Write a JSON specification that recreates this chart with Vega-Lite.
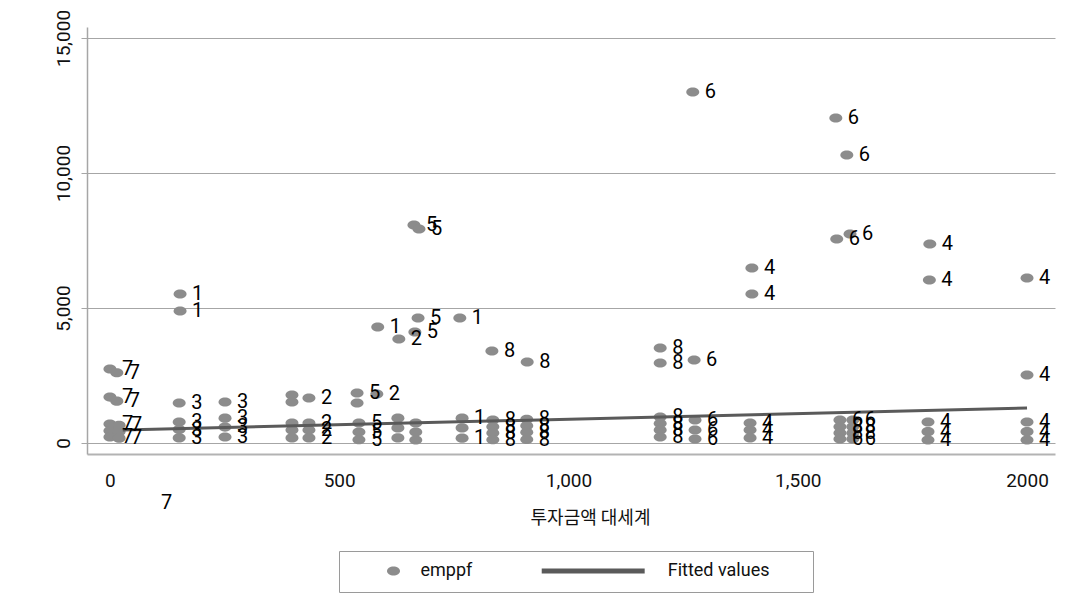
{
  "$schema": "https://vega.github.io/schema/vega-lite/v6.json",
  "width": 968,
  "height": 427,
  "autosize": {"type": "none"},
  "padding": {"left": 87, "top": 27, "right": 36, "bottom": 155},
  "background": "white",
  "config": {"view": {"stroke": null}, "font": "Roboto"},
  "datasets": {
    "obs": [
      {"x": 1271, "y": 13000, "lab": "6"},
      {"x": 1583, "y": 12037, "lab": "6"},
      {"x": 1607, "y": 10667, "lab": "6"},
      {"x": 663, "y": 8074, "lab": "5"},
      {"x": 674, "y": 7926, "lab": "5"},
      {"x": 1585, "y": 7555, "lab": "6"},
      {"x": 1614, "y": 7740, "lab": "6"},
      {"x": 1788, "y": 7370, "lab": "4"},
      {"x": 1400, "y": 6481, "lab": "4"},
      {"x": 1400, "y": 5518, "lab": "4"},
      {"x": 1787, "y": 6037, "lab": "4"},
      {"x": 2000, "y": 6111, "lab": "4"},
      {"x": 2000, "y": 2518, "lab": "4"},
      {"x": 153, "y": 5519, "lab": "1"},
      {"x": 153, "y": 4889, "lab": "1"},
      {"x": 584, "y": 4296, "lab": "1"},
      {"x": 672, "y": 4630, "lab": "5"},
      {"x": 665, "y": 4111, "lab": "5"},
      {"x": 630, "y": 3852, "lab": "2"},
      {"x": 763, "y": 4630, "lab": "1"},
      {"x": 833, "y": 3407, "lab": "8"},
      {"x": 910, "y": 3000, "lab": "8"},
      {"x": 0, "y": 2740, "lab": "7"},
      {"x": 15, "y": 2600, "lab": "7"},
      {"x": 0, "y": 1700, "lab": "7"},
      {"x": 15, "y": 1550, "lab": "7"},
      {"x": 151, "y": 1481, "lab": "3"},
      {"x": 251, "y": 1519, "lab": "3"},
      {"x": 397, "y": 1778, "lab": ""},
      {"x": 397, "y": 1519, "lab": ""},
      {"x": 434, "y": 1667, "lab": "2"},
      {"x": 539, "y": 1852, "lab": "5"},
      {"x": 539, "y": 1481, "lab": ""},
      {"x": 582, "y": 1815, "lab": "2"},
      {"x": 1200, "y": 3518, "lab": "8"},
      {"x": 1200, "y": 2963, "lab": "8"},
      {"x": 1274, "y": 3074, "lab": "6"},
      {"x": 0, "y": 700, "lab": "7"},
      {"x": 0, "y": 450, "lab": ""},
      {"x": 0, "y": 220, "lab": "7"},
      {"x": 20, "y": 660, "lab": "7"},
      {"x": 20, "y": 420, "lab": ""},
      {"x": 20, "y": 180, "lab": "7"},
      {"x": 151, "y": 780, "lab": "3"},
      {"x": 151, "y": 500, "lab": "3"},
      {"x": 151, "y": 190, "lab": "3"},
      {"x": 251, "y": 920, "lab": "3"},
      {"x": 251, "y": 590, "lab": "3"},
      {"x": 251, "y": 220, "lab": "3"},
      {"x": 397, "y": 740, "lab": ""},
      {"x": 397, "y": 480, "lab": ""},
      {"x": 397, "y": 190, "lab": ""},
      {"x": 434, "y": 740, "lab": "2"},
      {"x": 434, "y": 480, "lab": "2"},
      {"x": 434, "y": 190, "lab": "2"},
      {"x": 543, "y": 740, "lab": "5"},
      {"x": 543, "y": 410, "lab": "5"},
      {"x": 543, "y": 120, "lab": "5"},
      {"x": 628, "y": 920, "lab": ""},
      {"x": 628, "y": 560, "lab": ""},
      {"x": 628, "y": 190, "lab": ""},
      {"x": 667, "y": 740, "lab": ""},
      {"x": 667, "y": 410, "lab": ""},
      {"x": 667, "y": 110, "lab": ""},
      {"x": 768, "y": 920, "lab": "1"},
      {"x": 768, "y": 560, "lab": ""},
      {"x": 768, "y": 180, "lab": "1"},
      {"x": 835, "y": 850, "lab": "8"},
      {"x": 835, "y": 600, "lab": "8"},
      {"x": 835, "y": 370, "lab": "8"},
      {"x": 835, "y": 120, "lab": "8"},
      {"x": 909, "y": 880, "lab": "8"},
      {"x": 909, "y": 640, "lab": "8"},
      {"x": 909, "y": 400, "lab": "8"},
      {"x": 909, "y": 130, "lab": "8"},
      {"x": 1200, "y": 960, "lab": "8"},
      {"x": 1200, "y": 720, "lab": "8"},
      {"x": 1200, "y": 480, "lab": "8"},
      {"x": 1200, "y": 220, "lab": "8"},
      {"x": 1276, "y": 850, "lab": "6"},
      {"x": 1276, "y": 480, "lab": "6"},
      {"x": 1276, "y": 150, "lab": "6"},
      {"x": 1396, "y": 740, "lab": "4"},
      {"x": 1396, "y": 480, "lab": "4"},
      {"x": 1396, "y": 190, "lab": "4"},
      {"x": 1592, "y": 850, "lab": "6"},
      {"x": 1592, "y": 600, "lab": "8"},
      {"x": 1592, "y": 370, "lab": "8"},
      {"x": 1592, "y": 150, "lab": "6"},
      {"x": 1620, "y": 850, "lab": "6"},
      {"x": 1620, "y": 600, "lab": "8"},
      {"x": 1620, "y": 370, "lab": "8"},
      {"x": 1620, "y": 150, "lab": "6"},
      {"x": 1784, "y": 780, "lab": "4"},
      {"x": 1784, "y": 420, "lab": "4"},
      {"x": 1784, "y": 110, "lab": "4"},
      {"x": 2000, "y": 780, "lab": "4"},
      {"x": 2000, "y": 420, "lab": "4"},
      {"x": 2000, "y": 110, "lab": "4"},
      {"x": 85, "y": -2222, "lab": "7", "kind": "label"}
    ],
    "fit": [
      {"x": 28, "y": 481},
      {"x": 2000, "y": 1296}
    ]
  },
  "resolve": {"scale": {"color": "independent"}, "legend": {"color": "independent"}},
  "encoding": {
    "x": {
      "field": "x",
      "type": "quantitative",
      "scale": {"domain": [-50, 2061], "nice": false, "zero": false},
      "axis": {
        "values": [0, 500, 1000, 1500, 2000],
        "labelExpr": "datum.value == 2000 ? '2000' : format(datum.value, ',')",
        "ticks": false,
        "tickSize": 0,
        "grid": false,
        "domainColor": "#b3b3b3",
        "domainWidth": 2,
        "labelPadding": 17,
        "labelFontSize": 19,
        "labelFont": "Roboto",
        "labelColor": "#111111",
        "labelFlush": false,
        "labelOverlap": false,
        "title": "투자금액 대세계",
        "titleFont": "Noto Sans CJK KR",
        "titleFontSize": 18,
        "titleFontWeight": "normal",
        "titleColor": "#111111",
        "titlePadding": 19,
        "titleX": 503
      }
    },
    "y": {
      "field": "y",
      "type": "quantitative",
      "scale": {"domain": [-407, 15407], "nice": false, "zero": false},
      "axis": {
        "values": [0, 5000, 10000, 15000],
        "labelExpr": "format(datum.value, ',d')",
        "grid": true,
        "gridColor": "#a6a6a6",
        "gridWidth": 1,
        "tickSize": 6,
        "tickColor": "#a6a6a6",
        "domainColor": "#a6a6a6",
        "domainWidth": 1.5,
        "labelAngle": 270,
        "labelAlign": "center",
        "labelBaseline": "alphabetic",
        "labelPadding": 12,
        "labelFontSize": 19,
        "labelFont": "Roboto",
        "labelColor": "#111111",
        "labelFlush": false,
        "labelOverlap": false,
        "title": null
      }
    }
  },
  "layer": [
    {
      "data": {"name": "obs"},
      "transform": [{"filter": "datum.kind !== 'label'"}],
      "mark": {
        "type": "point",
        "filled": true,
        "opacity": 1,
        "size": 169,
        "shape": "M -1 0 A 1 0.7 0 1 0 1 0 A 1 0.7 0 1 0 -1 0 Z"
      },
      "encoding": {
        "color": {
          "datum": "emppf",
          "type": "nominal",
          "scale": {"domain": ["emppf"], "range": ["#8c8c8c"]},
          "legend": {
            "orient": "none",
            "legendX": 286.5,
            "legendY": 524,
            "direction": "horizontal",
            "padding": 11,
            "title": null,
            "labelFontSize": 18,
            "labelFont": "Roboto",
            "labelColor": "#111111",
            "labelOffset": 18,
            "symbolType": "M -1 0 A 1 0.7 0 1 0 1 0 A 1 0.7 0 1 0 -1 0 Z",
            "symbolSize": 169,
            "symbolStrokeWidth": 0,
            "symbolOpacity": 1
          }
        }
      }
    },
    {
      "data": {"name": "fit"},
      "mark": {"type": "line", "strokeWidth": 3},
      "encoding": {
        "color": {
          "datum": "Fitted values",
          "type": "nominal",
          "scale": {"domain": ["Fitted values"], "range": ["#5a5a5a"]},
          "legend": {
            "orient": "none",
            "legendX": 252,
            "legendY": 524,
            "direction": "horizontal",
            "strokeColor": "#9a9a9a",
            "padding": 11,
            "title": " ",
            "titleOrient": "left",
            "titleFontSize": 1,
            "titlePadding": 234.2,
            "labelFontSize": 18,
            "labelFont": "Roboto",
            "labelColor": "#111111",
            "labelOffset": 65.5,
            "symbolType": "M 30.54 0 M -7.92 0 L 7.92 0",
            "symbolSize": 169,
            "symbolStrokeWidth": 5,
            "symbolOpacity": 1
          }
        }
      }
    },
    {
      "data": {"name": "obs"},
      "mark": {
        "type": "text",
        "align": "left",
        "baseline": "middle",
        "dx": 12,
        "fontSize": 20,
        "font": "Roboto",
        "color": "#000000"
      },
      "encoding": {
        "text": {"field": "lab"}
      }
    }
  ]
}
